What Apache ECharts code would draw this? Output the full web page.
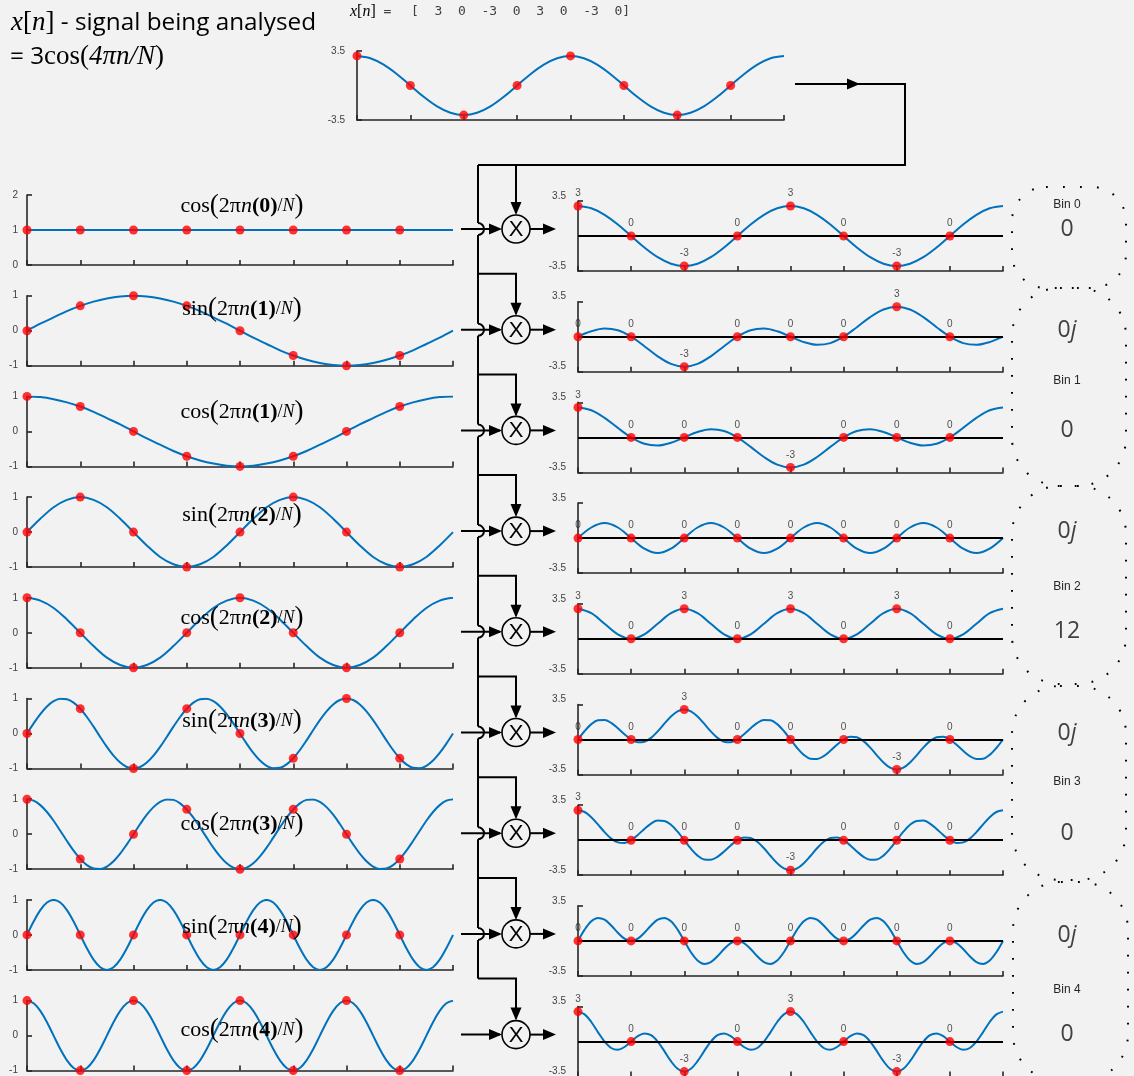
<!DOCTYPE html>
<html><head><meta charset="utf-8">
<script src="https://cdn.jsdelivr.net/npm/echarts/dist/echarts.min.js"></script>
<style>html,body{margin:0;padding:0;background:#f2f2f2}#c{width:1134px;height:1076px}</style>
</head><body><div id="c"></div>
<script>
// ---------------- DATA ----------------
const n = [0, 1, 2, 3, 4, 5, 6, 7];
const xSamples = [3, 0, -3, 0, 3, 0, -3, 0];
const xCurve = [3, 2.77, 2.12, 1.15, 0, -1.15, -2.12, -2.77, -3, -2.77, -2.12, -1.15, 0, 1.15, 2.12, 2.77, 3, 2.77, 2.12, 1.15, 0, -1.15, -2.12, -2.77, -3, -2.77, -2.12, -1.15, 0, 1.15, 2.12, 2.77, 3];

const basisFn = ['cos', 'sin', 'cos', 'sin', 'cos', 'sin', 'cos', 'sin', 'cos'];
const basisK = [0, 1, 1, 2, 2, 3, 3, 4, 4];

const cos0Samples = [1, 1, 1, 1, 1, 1, 1, 1];
const sin1Samples = [0, 0.71, 1, 0.71, 0, -0.71, -1, -0.71];
const cos1Samples = [1, 0.71, 0, -0.71, -1, -0.71, 0, 0.71];
const sin2Samples = [0, 1, 0, -1, 0, 1, 0, -1];
const cos2Samples = [1, 0, -1, 0, 1, 0, -1, 0];
const sin3Samples = [0, 0.71, -1, 0.71, 0, -0.71, 1, -0.71];
const cos3Samples = [1, -0.71, 0, 0.71, -1, 0.71, 0, -0.71];
const sin4Samples = [0, 0, 0, 0, 0, 0, 0, 0];
const cos4Samples = [1, -1, 1, -1, 1, -1, 1, -1];

const cos0Curve = [1, 1];
const sin1Curve = [0, 0.2, 0.38, 0.56, 0.71, 0.83, 0.92, 0.98, 1, 0.98, 0.92, 0.83, 0.71, 0.56, 0.38, 0.2, 0, -0.2, -0.38, -0.56, -0.71, -0.83, -0.92, -0.98, -1, -0.98, -0.92, -0.83, -0.71, -0.56, -0.38, -0.2, 0];
const cos1Curve = [1, 0.98, 0.92, 0.83, 0.71, 0.56, 0.38, 0.2, 0, -0.2, -0.38, -0.56, -0.71, -0.83, -0.92, -0.98, -1, -0.98, -0.92, -0.83, -0.71, -0.56, -0.38, -0.2, 0, 0.2, 0.38, 0.56, 0.71, 0.83, 0.92, 0.98, 1];
const sin2Curve = [0, 0.38, 0.71, 0.92, 1, 0.92, 0.71, 0.38, 0, -0.38, -0.71, -0.92, -1, -0.92, -0.71, -0.38, 0, 0.38, 0.71, 0.92, 1, 0.92, 0.71, 0.38, 0, -0.38, -0.71, -0.92, -1, -0.92, -0.71, -0.38, 0];
const cos2Curve = [1, 0.92, 0.71, 0.38, 0, -0.38, -0.71, -0.92, -1, -0.92, -0.71, -0.38, 0, 0.38, 0.71, 0.92, 1, 0.92, 0.71, 0.38, 0, -0.38, -0.71, -0.92, -1, -0.92, -0.71, -0.38, 0, 0.38, 0.71, 0.92, 1];
const sin3Curve = [0, 0.29, 0.556, 0.773, 0.924, 0.995, 0.981, 0.882, 0.707, 0.471, 0.195, -0.098, -0.383, -0.634, -0.831, -0.957, -1, -0.957, -0.831, -0.634, -0.383, -0.098, 0.195, 0.471, 0.707, 0.882, 0.981, 0.995, 0.924, 0.773, 0.556, 0.29, 0, -0.29, -0.556, -0.773, -0.924, -0.995, -0.981, -0.882, -0.707, -0.471, -0.195, 0.098, 0.383, 0.634, 0.831, 0.957, 1, 0.957, 0.831, 0.634, 0.383, 0.098, -0.195, -0.471, -0.707, -0.882, -0.981, -0.995, -0.924, -0.773, -0.556, -0.29, 0];
const cos3Curve = [1, 0.957, 0.831, 0.634, 0.383, 0.098, -0.195, -0.471, -0.707, -0.882, -0.981, -0.995, -0.924, -0.773, -0.556, -0.29, 0, 0.29, 0.556, 0.773, 0.924, 0.995, 0.981, 0.882, 0.707, 0.471, 0.195, -0.098, -0.383, -0.634, -0.831, -0.957, -1, -0.957, -0.831, -0.634, -0.383, -0.098, 0.195, 0.471, 0.707, 0.882, 0.981, 0.995, 0.924, 0.773, 0.556, 0.29, 0, -0.29, -0.556, -0.773, -0.924, -0.995, -0.981, -0.882, -0.707, -0.471, -0.195, 0.098, 0.383, 0.634, 0.831, 0.957, 1];
const sin4Curve = [0, 0.383, 0.707, 0.924, 1, 0.924, 0.707, 0.383, 0, -0.383, -0.707, -0.924, -1, -0.924, -0.707, -0.383, 0, 0.383, 0.707, 0.924, 1, 0.924, 0.707, 0.383, 0, -0.383, -0.707, -0.924, -1, -0.924, -0.707, -0.383, 0, 0.383, 0.707, 0.924, 1, 0.924, 0.707, 0.383, 0, -0.383, -0.707, -0.924, -1, -0.924, -0.707, -0.383, 0, 0.383, 0.707, 0.924, 1, 0.924, 0.707, 0.383, 0, -0.383, -0.707, -0.924, -1, -0.924, -0.707, -0.383, 0];
const cos4Curve = [1, 0.924, 0.707, 0.383, 0, -0.383, -0.707, -0.924, -1, -0.924, -0.707, -0.383, 0, 0.383, 0.707, 0.924, 1, 0.924, 0.707, 0.383, 0, -0.383, -0.707, -0.924, -1, -0.924, -0.707, -0.383, 0, 0.383, 0.707, 0.924, 1, 0.924, 0.707, 0.383, 0, -0.383, -0.707, -0.924, -1, -0.924, -0.707, -0.383, 0, 0.383, 0.707, 0.924, 1, 0.924, 0.707, 0.383, 0, -0.383, -0.707, -0.924, -1, -0.924, -0.707, -0.383, 0, 0.383, 0.707, 0.924, 1];

const pCos0Samples = [3, 0, -3, 0, 3, 0, -3, 0];
const pSin1Samples = [0, 0, -3, 0, 0, 0, 3, 0];
const pCos1Samples = [3, 0, 0, 0, -3, 0, 0, 0];
const pSin2Samples = [0, 0, 0, 0, 0, 0, 0, 0];
const pCos2Samples = [3, 0, 3, 0, 3, 0, 3, 0];
const pSin3Samples = [0, 0, 3, 0, 0, 0, -3, 0];
const pCos3Samples = [3, 0, 0, 0, -3, 0, 0, 0];
const pSin4Samples = [0, 0, 0, 0, 0, 0, 0, 0];
const pCos4Samples = [3, 0, -3, 0, 3, 0, -3, 0];

const pCos0Curve = [3, 2.77, 2.12, 1.15, 0, -1.15, -2.12, -2.77, -3, -2.77, -2.12, -1.15, 0, 1.15, 2.12, 2.77, 3, 2.77, 2.12, 1.15, 0, -1.15, -2.12, -2.77, -3, -2.77, -2.12, -1.15, 0, 1.15, 2.12, 2.77, 3];
const pSin1Curve = [0, 0.54, 0.81, 0.64, 0, -0.95, -1.96, -2.72, -3, -2.72, -1.96, -0.95, 0, 0.64, 0.81, 0.54, 0, -0.54, -0.81, -0.64, 0, 0.95, 1.96, 2.72, 3, 2.72, 1.96, 0.95, 0, -0.64, -0.81, -0.54, 0];
const pCos1Curve = [3, 2.72, 1.96, 0.95, 0, -0.64, -0.81, -0.54, 0, 0.54, 0.81, 0.64, 0, -0.95, -1.96, -2.72, -3, -2.72, -1.96, -0.95, 0, 0.64, 0.81, 0.54, 0, -0.54, -0.81, -0.64, 0, 0.95, 1.96, 2.72, 3];
const pSin2Curve = [0, 1.06, 1.5, 1.06, 0, -1.06, -1.5, -1.06, 0, 1.06, 1.5, 1.06, 0, -1.06, -1.5, -1.06, 0, 1.06, 1.5, 1.06, 0, -1.06, -1.5, -1.06, 0, 1.06, 1.5, 1.06, 0, -1.06, -1.5, -1.06, 0];
const pCos2Curve = [3, 2.56, 1.5, 0.44, 0, 0.44, 1.5, 2.56, 3, 2.56, 1.5, 0.44, 0, 0.44, 1.5, 2.56, 3, 2.56, 1.5, 0.44, 0, 0.44, 1.5, 2.56, 3, 2.56, 1.5, 0.44, 0, 0.44, 1.5, 2.56, 3];
const pSin3Curve = [0, 0.85, 1.54, 1.93, 1.96, 1.66, 1.13, 0.52, 0, -0.28, -0.22, 0.16, 0.81, 1.58, 2.3, 2.82, 3, 2.82, 2.3, 1.58, 0.81, 0.16, -0.22, -0.28, 0, 0.52, 1.13, 1.66, 1.96, 1.93, 1.54, 0.85, 0, -0.85, -1.54, -1.93, -1.96, -1.66, -1.13, -0.52, 0, 0.28, 0.22, -0.16, -0.81, -1.58, -2.3, -2.82, -3, -2.82, -2.3, -1.58, -0.81, -0.16, 0.22, 0.28, 0, -0.52, -1.13, -1.66, -1.96, -1.93, -1.54, -0.85, 0];
const pCos3Curve = [3, 2.82, 2.3, 1.58, 0.81, 0.16, -0.22, -0.28, 0, 0.52, 1.13, 1.66, 1.96, 1.93, 1.54, 0.85, 0, -0.85, -1.54, -1.93, -1.96, -1.66, -1.13, -0.52, 0, 0.28, 0.22, -0.16, -0.81, -1.58, -2.3, -2.82, -3, -2.82, -2.3, -1.58, -0.81, -0.16, 0.22, 0.28, 0, -0.52, -1.13, -1.66, -1.96, -1.93, -1.54, -0.85, 0, 0.85, 1.54, 1.93, 1.96, 1.66, 1.13, 0.52, 0, -0.28, -0.22, 0.16, 0.81, 1.58, 2.3, 2.82, 3];
const pSin4Curve = [0, 1.13, 1.96, 2.3, 2.12, 1.54, 0.81, 0.22, 0, 0.22, 0.81, 1.54, 2.12, 2.3, 1.96, 1.13, 0, -1.13, -1.96, -2.3, -2.12, -1.54, -0.81, -0.22, 0, -0.22, -0.81, -1.54, -2.12, -2.3, -1.96, -1.13, 0, 1.13, 1.96, 2.3, 2.12, 1.54, 0.81, 0.22, 0, 0.22, 0.81, 1.54, 2.12, 2.3, 1.96, 1.13, 0, -1.13, -1.96, -2.3, -2.12, -1.54, -0.81, -0.22, 0, -0.22, -0.81, -1.54, -2.12, -2.3, -1.96, -1.13, 0];
const pCos4Curve = [3, 2.72, 1.96, 0.95, 0, -0.64, -0.81, -0.54, 0, 0.54, 0.81, 0.64, 0, -0.95, -1.96, -2.72, -3, -2.72, -1.96, -0.95, 0, 0.64, 0.81, 0.54, 0, -0.54, -0.81, -0.64, 0, 0.95, 1.96, 2.72, 3, 2.72, 1.96, 0.95, 0, -0.64, -0.81, -0.54, 0, 0.54, 0.81, 0.64, 0, -0.95, -1.96, -2.72, -3, -2.72, -1.96, -0.95, 0, 0.64, 0.81, 0.54, 0, -0.54, -0.81, -0.64, 0, 0.95, 1.96, 2.72, 3];

const topTicks = [-3.5, 3.5];
const leftTicksFirst = [0, 1, 2];
const leftTicks = [-1, 0, 1];
const rightTicks = [-3.5, 3.5];

const binNames = ['Bin 0', 'Bin 1', 'Bin 2', 'Bin 3', 'Bin 4'];
const binReal = ['0', '0', '12', '0', '0'];
const binImag = [null, '0', '0', '0', '0'];

// ---------------- TABLES ----------------
const leftRows = [
  [cos0Samples, cos0Curve], [sin1Samples, sin1Curve], [cos1Samples, cos1Curve],
  [sin2Samples, sin2Curve], [cos2Samples, cos2Curve], [sin3Samples, sin3Curve],
  [cos3Samples, cos3Curve], [sin4Samples, sin4Curve], [cos4Samples, cos4Curve]
];
const rightRows = [
  [pCos0Samples, pCos0Curve], [pSin1Samples, pSin1Curve], [pCos1Samples, pCos1Curve],
  [pSin2Samples, pSin2Curve], [pCos2Samples, pCos2Curve], [pSin3Samples, pSin3Curve],
  [pCos3Samples, pCos3Curve], [pSin4Samples, pSin4Curve], [pCos4Samples, pCos4Curve]
];

// ---------------- STYLE / LAYOUT ----------------
const SERIF = "'Liberation Serif','Times New Roman',serif";
const SANS = "'Liberation Sans',Arial,sans-serif";
const MONO = "'DejaVu Sans Mono','Liberation Mono',monospace";
const SOFT = "'Open Sans',Lato,sans-serif";
const BLUE = '#0072bd', RED = '#ff0000', AX = '#262626', LBL = '#404040', BG = '#f2f2f2';
const PITCH = 100.7;

const grids = [], xAxes = [], yAxes = [], series = [];

function addPlot(rect, yMin, yMax, ticks, labelExtra, samples, curve, isProduct) {
  const gi = grids.length;
  grids.push({ left: rect[0], top: rect[1], width: rect[2], height: rect[3], containLabel: false, outerBoundsMode: 'none' });
  xAxes.push({
    gridIndex: gi, type: 'value', min: 0, max: 8, interval: 1,
    axisLine: { show: true, onZero: false, lineStyle: { color: AX, width: 1.6 } },
    axisTick: { show: true, inside: true, length: 5, lineStyle: { color: AX, width: 1.6 } },
    axisLabel: { show: false }, splitLine: { show: false }
  });
  yAxes.push({
    gridIndex: gi, type: 'value', min: yMin, max: yMax,
    axisLine: { show: true, onZero: false, lineStyle: { color: AX, width: 1.6 } },
    axisTick: { show: true, inside: true, length: 5, customValues: ticks, lineStyle: { color: AX, width: 1.6 } },
    axisLabel: Object.assign({ show: true, customValues: ticks, fontSize: 10, color: LBL, fontFamily: SANS, margin: 9 }, labelExtra),
    splitLine: { show: false }
  });
  const step = 8 / (curve.length - 1);
  const line = {
    type: 'line', xAxisIndex: gi, yAxisIndex: gi, silent: true, animation: false,
    data: curve.map((v, i) => [i * step, v]),
    showSymbol: false, symbol: 'none', smooth: 0.35,
    lineStyle: { color: BLUE, width: 2 }, z: 2
  };
  if (isProduct) {
    line.markLine = {
      silent: true, animation: false, symbol: ['none', 'none'], label: { show: false },
      lineStyle: { color: '#000', width: 2, type: 'solid' }, data: [{ yAxis: 0 }]
    };
  }
  series.push(line);
  series.push({
    type: 'scatter', xAxisIndex: gi, yAxisIndex: gi, silent: true, animation: false,
    data: samples.map((v, i) => [n[i], v]),
    symbolSize: 9, itemStyle: { color: RED }, z: 5,
    label: isProduct ? {
      show: true, position: 'top', distance: 3, fontSize: 10, color: AX, fontFamily: SANS,
      formatter: p => String(p.value[1])
    } : { show: false }
  });
}

// top plot x[n]
addPlot([357, 51, 427, 69], -3.5, 3.5, topTicks, { margin: 12 }, xSamples, xCurve, false);
// left basis plots
leftRows.forEach((r, i) => {
  addPlot([27, 195 + PITCH * i, 426, 70], i === 0 ? 0 : -1, i === 0 ? 2 : 1,
    i === 0 ? leftTicksFirst : leftTicks, { margin: 9 }, r[0], r[1], false);
});
// right product plots
rightRows.forEach((r, i) => {
  addPlot([578, 201 + PITCH * i, 425, 70], -3.5, 3.5, rightTicks,
    { margin: 12, verticalAlign: 'bottom' }, r[0], r[1], true);
});

// ---------------- GRAPHICS ----------------
const G = [];
function rs(o) { return Object.assign({ fill: '#000', color: '#000' }, o); }
function txt(x, y, text, rich) {
  G.push({
    type: 'text', x, y, z: 30, silent: true,
    style: { text, rich, align: 'center', textAlign: 'center', verticalAlign: 'middle', textVerticalAlign: 'middle' }
  });
}
function ltxt(x, y, text, rich) {
  G.push({
    type: 'text', x, y, z: 30, silent: true,
    style: { text, rich, align: 'left', textAlign: 'left', verticalAlign: 'middle', textVerticalAlign: 'middle' }
  });
}
function pl(points, w) {
  G.push({ type: 'polyline', shape: { points }, style: { stroke: '#000', lineWidth: w || 2, fill: null }, z: 10, silent: true });
}
function head(x, y, dir) {
  const L = 13, W = 5.5;
  const pts = dir === 'r' ? [[x, y], [x - L, y - W], [x - L, y + W]] : [[x, y], [x - W, y - L], [x + W, y - L]];
  G.push({ type: 'polygon', shape: { points: pts }, style: { fill: '#000' }, z: 11, silent: true });
}

// top-left description
const descRich = {
  si: rs({ fontFamily: SERIF, fontStyle: 'italic', fontSize: 27 }),
  s: rs({ fontFamily: SERIF, fontSize: 27 }),
  a: rs({ fontFamily: SOFT, fontSize: 24.3 })
};
ltxt(11, 23, '{si|x}{s|[}{si|n}{s|]}{a| - signal being analysed}', descRich);
ltxt(10, 57, '{a|= 3}{s|cos(}{si|4πn/N}{s|)}', descRich);

// x[n] = [ ... ] header
ltxt(350, 12, '{si|x}{s|[}{si|n}{s|]}{m| = }', {
  si: rs({ fontFamily: SERIF, fontStyle: 'italic', fontSize: 16 }),
  s: rs({ fontFamily: SERIF, fontSize: 16 }),
  m: rs({ fontFamily: MONO, fontSize: 13, fill: LBL, color: LBL })
});
ltxt(411, 12, '{m|[' + xSamples.map(v => '  ' + v).join('') + ']}', {
  m: rs({ fontFamily: MONO, fontSize: 13, fill: LBL, color: LBL })
});

// basis titles
const titleRich = {
  f: rs({ fontFamily: SERIF, fontSize: 22 }),
  P: rs({ fontFamily: SERIF, fontSize: 27 }),
  i: rs({ fontFamily: SERIF, fontSize: 22, fontStyle: 'italic' }),
  b: rs({ fontFamily: SERIF, fontSize: 22, fontWeight: 'bold' }),
  s: rs({ fontFamily: SERIF, fontSize: 18 }),
  si: rs({ fontFamily: SERIF, fontSize: 18, fontStyle: 'italic' })
};
basisFn.forEach((fn, i) => {
  txt(242, 206 + 103 * i, '{f|' + fn + '}{P|(}{f|2π}{i|n}{b|(' + basisK[i] + ')}{s|/}{si|N}{P|)}', titleRich);
});

// top connector
pl([[795, 84], [905, 84], [905, 165], [478, 165]]);
head(860, 84, 'r');

// multiplier rows, bus and branches
const MX = 516, MR = 14, BUS = 478, HOP = 6;
const rowCY = basisFn.map((_, i) => 229 + PITCH * i);
let yPrev = 165;
rowCY.forEach((cy, i) => {
  if (i < 8) {
    pl([[BUS, yPrev], [BUS, cy - HOP]]);
    G.push({ type: 'arc', shape: { cx: BUS, cy, r: HOP, startAngle: -Math.PI / 2, endAngle: Math.PI / 2, clockwise: true },
      style: { stroke: '#000', lineWidth: 2, fill: null }, z: 10, silent: true });
    yPrev = cy + HOP;
  }
});
pl([[BUS, yPrev], [BUS, rowCY[8] - 56]]);
rowCY.forEach((cy, i) => {
  pl([[461, cy], [MX - MR - 2, cy]]);
  head(MX - MR, cy, 'r');
  const by = i === 0 ? 165 : cy - 56;
  if (i === 0) pl([[MX, by], [MX, cy - MR - 2]]);
  else pl([[BUS, by], [MX, by], [MX, cy - MR - 2]]);
  head(MX, cy - MR, 'd');
  G.push({ type: 'circle', shape: { cx: MX, cy, r: MR }, style: { fill: BG, stroke: '#000', lineWidth: 1.6 }, z: 12, silent: true });
  G.push({ type: 'text', x: MX, y: cy + 1, z: 13, silent: true,
    style: { text: 'X', fontFamily: SANS, fontSize: 22, fill: '#000', align: 'center', textAlign: 'center', verticalAlign: 'middle', textVerticalAlign: 'middle' } });
  pl([[MX + MR, cy], [553, cy]]);
  head(556, cy, 'r');
});

// bins (dotted rounded outlines)
const binBoxes = [[1012, 187, 114, 101, 34], [1012, 288, 114, 198, 48], [1012, 486, 114, 198, 48], [1012, 686, 114, 194, 48], [1013, 882, 115, 200, 48]];
binBoxes.forEach(b => {
  G.push({ type: 'rect', shape: { x: b[0], y: b[1], width: b[2], height: b[3], r: b[4] },
    style: { fill: null, stroke: '#000', lineWidth: 2, lineDash: [1.8, 15.2] }, z: 5, silent: true });
});
const binPos = [[null, 205, 229], [330, 381, 430], [531, 587, 631], [733, 782, 833], [935, 990, 1034]];
const bigRich = {
  a: rs({ fontFamily: SOFT, fontSize: 23, fill: LBL, color: LBL }),
  j: rs({ fontFamily: SOFT, fontSize: 23, fontStyle: 'italic', fill: LBL, color: LBL }),
  l: rs({ fontFamily: SANS, fontSize: 12, fill: AX, color: AX })
};
binNames.forEach((name, i) => {
  const p = binPos[i];
  if (binImag[i] !== null) txt(1067, p[0], '{a|' + binImag[i] + '}{j|j}', bigRich);
  txt(1067, p[1], '{l|' + name + '}', bigRich);
  txt(1067, p[2], '{a|' + binReal[i] + '}', bigRich);
});

const chart = echarts.init(document.getElementById('c'), null, { renderer: 'canvas' });
chart.setOption({
  backgroundColor: BG,
  animation: false,
  textStyle: { fontFamily: SANS },
  tooltip: { show: false },
  grid: grids, xAxis: xAxes, yAxis: yAxes, series, graphic: G
});
</script></body></html>
